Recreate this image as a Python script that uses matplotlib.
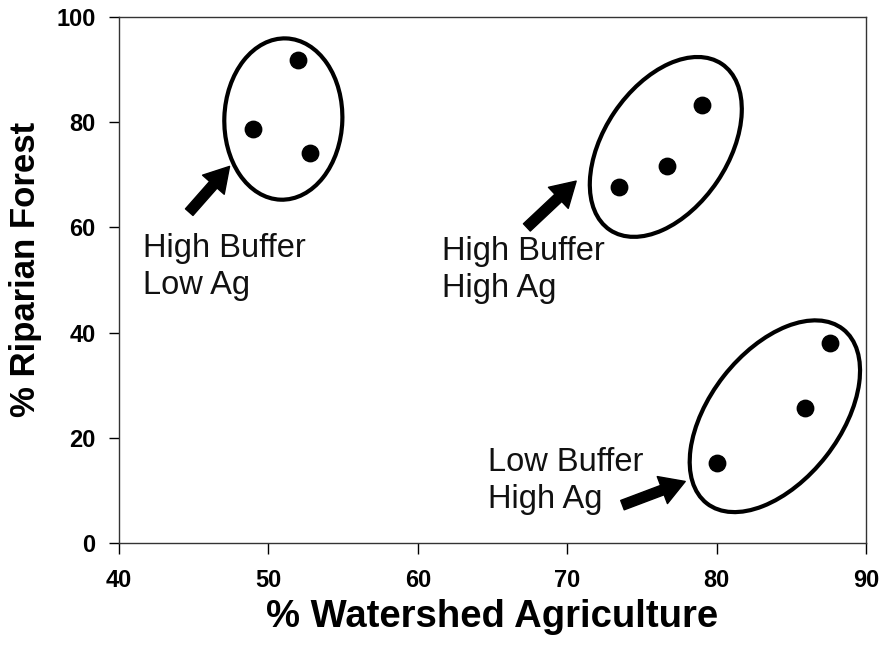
import numpy as np
import matplotlib
matplotlib.use("Agg")
import matplotlib.pyplot as plt
from matplotlib.patches import Ellipse
from matplotlib.transforms import Affine2D

# data
agri = [49.0, 52.0, 52.8, 73.5, 76.7, 79.0, 80.0, 85.9, 87.6]
forest = [78.7, 91.8, 74.1, 67.7, 71.7, 83.3, 15.2, 25.7, 38.0]

group_labels = ["High Buffer\nLow Ag", "High Buffer\nHigh Ag", "Low Buffer\nHigh Ag"]
label_xy = [(41.6, 59.0), (61.6, 58.4), (64.7, 18.2)]
arrow_tail = [(44.7, 62.9), (67.3, 60.0), (73.7, 7.2)]
arrow_head = [(47.4, 71.6), (70.6, 68.8), (77.9, 11.7)]

# ellipse centre (data), width/height in x-units on screen, angle in degrees
ell_center = [(51.0, 80.6), (76.6, 75.3), (83.9, 24.1)]
ell_size = [(7.9, 10.8), (13.4, 8.3), (14.8, 8.7)]
ell_angle = [-2, 56, 52]

xticks = [40, 50, 60, 70, 80, 90]
yticks = [0, 20, 40, 60, 80, 100]

bold_font = ['Liberation Sans', 'DejaVu Sans']
plain_font = ['Liberation Sans', 'DejaVu Sans']

fig = plt.figure(figsize=(8.86, 6.54), dpi=100)
ax = fig.add_axes([119 / 886, 1 - 543 / 654, 747 / 886, 526 / 654])

ax.scatter(agri, forest, s=140, color='black', zorder=3)

ax.set_xlim(40, 90)
ax.set_ylim(0, 100)

# screen aspect: y-data units per x-data unit of equal pixel length
pos = ax.get_position()
w_px = pos.width * fig.get_figwidth()
h_px = pos.height * fig.get_figheight()
k = (100 / h_px) / (50 / w_px)

trans = Affine2D().scale(1, k) + ax.transData
for (cx, cy), (w, h), ang in zip(ell_center, ell_size, ell_angle):
	e = Ellipse((cx, cy / k), w, h, angle=ang, fill=False, edgecolor='black',
				linewidth=3, transform=trans)
	ax.add_patch(e)

for txt, (tx, ty) in zip(group_labels, label_xy):
	ax.text(tx, ty, txt, fontsize=23.5, family=plain_font, va='top', ha='left',
			linespacing=1.25, color='#111111')

for tail, head in zip(arrow_tail, arrow_head):
	ax.annotate('', xy=head, xytext=tail,
				arrowprops=dict(arrowstyle='simple,head_length=1.1,head_width=1.3,tail_width=0.45',
								mutation_scale=16, fc='black', ec='black',
								shrinkA=0, shrinkB=0))

ax.set_xticks(xticks)
ax.set_yticks(yticks)
ax.tick_params(axis='x', direction='out', length=8, width=1, pad=11, labelsize=17)
ax.tick_params(axis='y', direction='out', length=7, width=1, pad=10, labelsize=17)
for lab in ax.get_xticklabels() + ax.get_yticklabels():
	lab.set_fontweight('bold')
	lab.set_family(bold_font)

for sp in ax.spines.values():
	sp.set_linewidth(1)
	sp.set_color('#333333')

ax.set_xlabel("% Watershed Agriculture", fontsize=27.5, fontweight='bold',
			  family=bold_font, labelpad=5)
ax.set_ylabel("% Riparian Forest", fontsize=25, fontweight='bold',
			  family=bold_font)
ax.yaxis.set_label_coords(-0.103, 0.52)

fig.savefig("out.png", dpi=100)
